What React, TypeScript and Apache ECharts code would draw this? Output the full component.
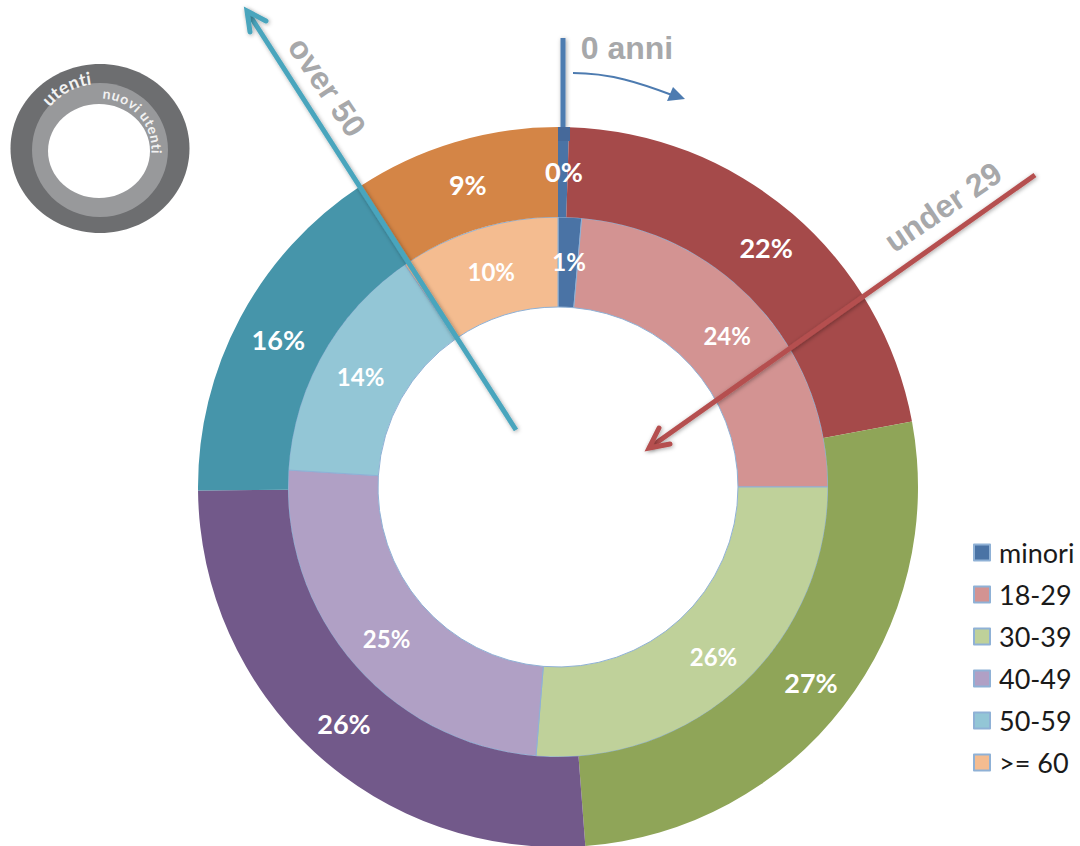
import React, { useEffect, useRef } from "react";
import * as echarts from "echarts";

const ageGroups = ["minori", "18-29", "30-39", "40-49", "50-59", ">= 60"];
const usersShare = [0.49, 21.6, 26.7, 26.05, 15.9, 9.26];
const newUsersShare = [1.4, 23.6, 26.3, 24.7, 14.4, 9.6];
const usersColors = ["#4a73a5", "#a54a4a", "#8fa558", "#72598a", "#4695aa", "#d48546"];
const newUsersColors = ["#4a73a5", "#d39392", "#bfd19a", "#b0a0c5", "#93c6d6", "#f4bc90"];

const LABEL_FONT = "Lato, 'Noto Sans', sans-serif";
const NOTE_FONT = "'Liberation Sans', Arial, sans-serif";
const NOTE_GREY = "#a7a8aa";
const KEY_CENTER = { x: 100, y: 150 };

// Places each letter on a circle around the key donut, spaced by its own advance width;
// angles are clockwise from 12 o'clock.
function arcText(text: string, radius: number, fromDeg: number, toDeg: number, fontSize: number) {
  const font = `bold ${fontSize}px ${LABEL_FONT}`;
  const ctx = document.createElement("canvas").getContext("2d")!;
  ctx.font = font;
  const widths = text.split("").map((ch) => ctx.measureText(ch).width);
  const total = widths.reduce((a, b) => a + b, 0);
  let run = 0;
  return text.split("").map((ch, i) => {
    const deg = fromDeg + ((toDeg - fromDeg) * (run + widths[i] / 2)) / total;
    run += widths[i];
    const rad = (deg * Math.PI) / 180;
    return {
      type: "text",
      x: KEY_CENTER.x + radius * Math.sin(rad),
      y: KEY_CENTER.y - radius * Math.cos(rad),
      rotation: -rad,
      style: {
        text: ch,
        fill: "#f2f2f2",
        font,
        align: "center",
        verticalAlign: "middle",
      },
    };
  });
}

function shadowed(color: string, width: number) {
  return {
    stroke: color,
    lineWidth: width,
    shadowBlur: 4,
    shadowColor: "rgba(0,0,0,0.35)",
    shadowOffsetX: 1,
    shadowOffsetY: 1,
  };
}

function note(text: string, x: number, y: number, rotationDeg: number) {
  return {
    type: "text",
    x,
    y,
    rotation: (rotationDeg * Math.PI) / 180,
    style: {
      text,
      fill: NOTE_GREY,
      font: `bold 32px ${NOTE_FONT}`,
      align: "center",
      verticalAlign: "middle",
    },
  };
}

function ringSeries(
  name: string,
  values: number[],
  colors: string[],
  radius: [number, number],
  fontSize: number,
  borderWidth: number
) {
  return {
    type: "pie",
    name,
    center: [558, 487],
    radius,
    startAngle: 90,
    clockwise: true,
    avoidLabelOverlap: false,
    silent: true,
    labelLine: { show: false },
    label: {
      show: true,
      position: "inside",
      color: "#ffffff",
      fontFamily: LABEL_FONT,
      fontWeight: "bold",
      fontSize,
      offset: [1, 2],
      formatter: (p: { value: number }) => `${Math.round(p.value)}%`,
    },
    data: ageGroups.map((g, i) => ({
      name: g,
      value: values[i],
      itemStyle: {
        color: colors[i],
        borderColor: "#8fb1d6",
        borderWidth,
      },
    })),
  };
}

export default function App() {
  const ref = useRef<HTMLDivElement>(null);

  useEffect(() => {
    document.body.style.margin = "0";
    const chart = echarts.init(ref.current!, undefined, { renderer: "svg" });

    const overlays: any[] = [
      // key donut in the top-left corner
      { type: "ellipse", shape: { cx: 100, cy: 148.5, rx: 89.5, ry: 84.5 }, style: { fill: "#6d6e70" } },
      { type: "ellipse", shape: { cx: 100, cy: 150, rx: 68, ry: 67 }, style: { fill: "#98999b" } },
      { type: "ellipse", shape: { cx: 99, cy: 151, rx: 51, ry: 47 }, style: { fill: "#ffffff" } },
      ...arcText("utenti", 73, -50, -7, 18),
      ...arcText("nuovi utenti", 57, 2, 94, 14),

      // "0 anni" marker
      {
        type: "rect",
        shape: { x: 560.5, y: 38, width: 5, height: 90 },
        style: { fill: "#4d7bb0", shadowBlur: 4, shadowColor: "rgba(0,0,0,0.35)", shadowOffsetX: 1, shadowOffsetY: 1 },
      },
      { type: "rect", shape: { x: 558, y: 127, width: 12, height: 14 }, style: { fill: "#46699a" } },
      {
        type: "bezierCurve",
        shape: { x1: 573, y1: 73, cpx1: 610, cpy1: 73, cpx2: 640, cpy2: 83, x2: 672, y2: 95 },
        style: { stroke: "#4d7bb0", lineWidth: 2, fill: "none" },
      },
      {
        type: "polygon",
        shape: { points: [[673, 87], [685, 99], [667, 101]] },
        style: { fill: "#4d7bb0" },
      },
      note("0 anni", 627, 48, 0),

      // "under 29" arrow
      { type: "line", shape: { x1: 1035, y1: 175, x2: 649, y2: 448 }, style: shadowed("#b5504f", 5) },
      {
        type: "polyline",
        shape: { points: [[670, 444], [649, 448], [659, 428]] },
        style: { ...shadowed("#b5504f", 5), fill: "none", lineCap: "round" },
      },
      note("under 29", 943, 207, 34),

      // "over 50" arrow
      { type: "line", shape: { x1: 516, y1: 430, x2: 247, y2: 11 }, style: shadowed("#4aa5bd", 5) },
      {
        type: "polyline",
        shape: { points: [[266, 21], [247, 11], [250, 32]] },
        style: { ...shadowed("#4aa5bd", 5), fill: "none", lineCap: "round" },
      },
      note("over 50", 327, 87, -56),
    ];

    chart.setOption({
      animation: false,
      backgroundColor: "#ffffff",
      legend: {
        orient: "vertical",
        left: 968,
        top: 534,
        itemWidth: 16,
        itemHeight: 16,
        itemGap: 15,
        icon: "rect",
        data: ageGroups,
        selectedMode: false,
        itemStyle: { borderColor: "#8fb1d6", borderWidth: 2 },
        textStyle: { fontFamily: LABEL_FONT, fontSize: 27, color: "#1a1a1a", padding: [0, 0, 0, 4] },
      },
      series: [
        ringSeries("nuovi utenti", newUsersShare, newUsersColors, [180, 270], 24, 1),
        ringSeries("utenti", usersShare, usersColors, [270, 360], 27, 0),
      ],
      graphic: { elements: overlays.map((el) => ({ ...el, z: 10 })) },
    });
    return () => chart.dispose();
  }, []);

  return <div ref={ref} style={{ position: "absolute", left: 0, top: 0, width: 1080, height: 846 }} />;
}
